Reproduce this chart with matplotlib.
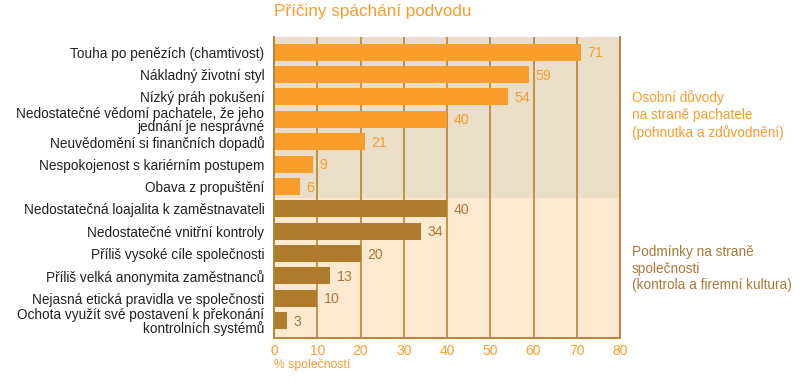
import matplotlib.pyplot as plt

plt.rcParams['font.family'] = ['Liberation Sans', 'DejaVu Sans']

# data
categories = [
    "Touha po penězích (chamtivost)",
    "Nákladný životní styl",
    "Nízký práh pokušení",
    "Nedostatečné vědomí pachatele, že jeho\njednání je nesprávné",
    "Neuvědomění si finančních dopadů",
    "Nespokojenost s kariérním postupem",
    "Obava z propuštění",
    "Nedostatečná loajalita k zaměstnavateli",
    "Nedostatečné vnitřní kontroly",
    "Příliš vysoké cíle společnosti",
    "Příliš velká anonymita zaměstnanců",
    "Nejasná etická pravidla ve společnosti",
    "Ochota využít své postavení k překonání\nkontrolních systémů",
]
values = [71, 59, 54, 40, 21, 9, 6, 40, 34, 20, 13, 10, 3]
groups = [0] * 7 + [1] * 6
group_labels = [
    "Osobní důvody\nna straně pachatele\n(pohnutka a zdůvodnění)",
    "Podmínky na straně\nspolečnosti\n(kontrola a firemní kultura)",
]
xticks = [0, 10, 20, 30, 40, 50, 60, 70, 80]

ORANGE = "#F99D2B"
BROWN = "#AF7C2E"
BG_TOP = "#EBDEC8"
BG_BOT = "#FDE9CF"
GRID = "#B58535"
TEXT = "#222222"

bar_colors = [ORANGE if g == 0 else BROWN for g in groups]
val_colors = [ORANGE if g == 0 else "#A8793A" for g in groups]

fig = plt.figure(figsize=(8.08, 3.88), dpi=100)
ax = fig.add_axes([274 / 808, 50 / 388, 346 / 808, 301 / 388])

n = len(categories)
ypos = list(range(n))
ax.set_ylim(n - 1 + 0.78, -0.68)
ax.set_xlim(0, 80)

# background bands
ax.axhspan(-0.68, 6.5, color=BG_TOP, zorder=0, lw=0)
ax.axhspan(6.5, n - 1 + 0.78, color=BG_BOT, zorder=0, lw=0)

for x in xticks[1:-1]:
    ax.axvline(x, color=GRID, lw=1.2, zorder=1)

ax.barh(ypos, values, height=0.76, color=bar_colors, zorder=2)

for y, v, c in zip(ypos, values, val_colors):
    ax.text(v + 1.5, y + 0.05, str(v), va="center", ha="left", fontsize=10.2,
            color=c, zorder=3)

ax.set_yticks(ypos)
ax.set_yticklabels(categories, fontsize=9.8, color=TEXT, linespacing=0.95)
ax.tick_params(axis="y", length=0, pad=7)

ax.set_xticks(xticks)
ax.set_xticklabels([str(x) for x in xticks], fontsize=10, color=ORANGE)
ax.tick_params(axis="x", length=0, pad=4)

ax.spines["top"].set_visible(False)
for s in ["left", "right", "bottom"]:
    ax.spines[s].set_color(GRID)
    ax.spines[s].set_linewidth(1.4)

fig.text(274 / 808, 1 - 4 / 388, "Příčiny spáchání podvodu", fontsize=12.3,
         color=ORANGE, ha="left", va="top")
fig.text(274 / 808, 1 - 359 / 388, "% společností", fontsize=8.8,
         color=ORANGE, ha="left", va="top")

fig.text(632 / 808, 1 - 90 / 388, group_labels[0], fontsize=9.8,
         color=ORANGE, ha="left", va="top", linespacing=1.25)
fig.text(632 / 808, 1 - 245 / 388, group_labels[1], fontsize=9.8,
         color="#A8793A", ha="left", va="top", linespacing=1.25)

fig.savefig("out.png", dpi=100)
